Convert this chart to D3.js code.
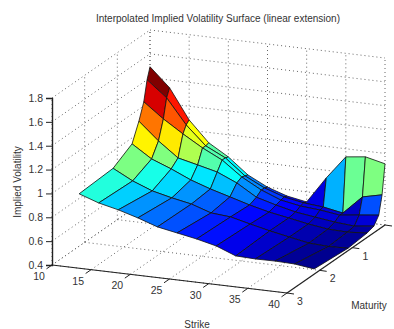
<!DOCTYPE html>
<html>
<head>
<meta charset="utf-8">
<script src="https://cdn.jsdelivr.net/npm/d3@7"></script>
<style>
  html, body { margin: 0; padding: 0; background: #fff; }
  svg { display: block; }
  text { font-family: "Liberation Sans", Arial, sans-serif; fill: #333; }
</style>
</head>
<body>
<div id="chart"></div>
<script>
// Interpolated implied volatility surface

// Grid values
const strikes = [10, 12.5, 15, 17.5, 20, 22.5, 25, 27.5, 30, 32.5, 35, 37.5, 40];
const maturities = [0, 0.09, 0.19, 0.34, 0.55, 1.13, 2.17];

const volM0 = [1.492, 1.335, 1.085, 0.913, 0.814, 0.683, 0.600, 0.545, 0.515, 0.736, 0.932, 0.952, 0.913];
const volM1 = [1.400, 1.268, 1.060, 0.904, 0.823, 0.692, 0.610, 0.554, 0.524, 0.509, 0.478, 0.633, 0.670];
const volM2 = [1.234, 1.110, 1.004, 0.906, 0.824, 0.702, 0.612, 0.547, 0.517, 0.503, 0.480, 0.500, 0.519];
const volM3 = [1.100, 0.954, 0.831, 0.792, 0.752, 0.680, 0.580, 0.534, 0.495, 0.472, 0.450, 0.436, 0.455];
const volM4 = [0.950, 0.843, 0.779, 0.706, 0.650, 0.603, 0.555, 0.515, 0.485, 0.454, 0.431, 0.425, 0.437];
const volM5 = [0.855, 0.769, 0.705, 0.666, 0.634, 0.579, 0.565, 0.525, 0.487, 0.455, 0.424, 0.415, 0.420];
const volM6 = [0.839, 0.782, 0.744, 0.696, 0.640, 0.609, 0.578, 0.539, 0.475, 0.469, 0.471, 0.466, 0.444];
const volRows = [volM0, volM1, volM2, volM3, volM4, volM5, volM6];

const strikeTicks = [10, 15, 20, 25, 30, 35, 40];
const maturityTicks = [0, 1, 2, 3];
const maturityLabels = [1, 2, 3];
const volTicks = [0.4, 0.6, 0.8, 1, 1.2, 1.4, 1.6, 1.8];

const width = 394, height = 329;

const svg = d3.select("#chart")
  .append("svg")
    .attr("width", width)
    .attr("height", height);

// Oblique projection: each data axis gets its own x and y scale
const originX = 52, originY = 265;
const strikeX = d3.scaleLinear().domain([10, 40]).range([0, 235]);
const strikeY = d3.scaleLinear().domain([10, 40]).range([0, 28]);
const matX = d3.scaleLinear().domain([3, 0]).range([0, 98]);
const matY = d3.scaleLinear().domain([3, 0]).range([0, -68]);
const volY = d3.scaleLinear().domain([0.4, 1.8]).range([originY, 98]);

function project(k, m, v) {
  return [originX + strikeX(k) + matX(m), strikeY(k) + matY(m) + volY(v)];
}

// Jet colormap
const allVols = volRows.flat();
const volNorm = d3.scaleLinear().domain(d3.extent(allVols)).range([0, 1]);
const jet = d3.scaleLinear()
  .domain([0, 0.125, 0.375, 0.625, 0.875, 1])
  .range(["#00008f", "#0000ff", "#00ffff", "#ffff00", "#ff0000", "#800000"]);

const line3d = d3.line();

// Dotted grid on the floor and the two back walls
function gridLine(a, b) {
  svg.append("path")
    .attr("d", line3d([a, b]))
    .attr("fill", "none")
    .attr("stroke", "#666")
    .attr("stroke-width", 1)
    .attr("stroke-dasharray", "1,3");
}
strikeTicks.forEach(k => {
  gridLine(project(k, 3, 0.4), project(k, 0, 0.4));
  gridLine(project(k, 0, 0.4), project(k, 0, 1.8));
});
maturityTicks.forEach(m => {
  gridLine(project(10, m, 0.4), project(40, m, 0.4));
  gridLine(project(10, m, 0.4), project(10, m, 1.8));
});
volTicks.forEach(v => {
  gridLine(project(10, 3, v), project(10, 0, v));
  gridLine(project(10, 0, v), project(40, 0, v));
});

// Surface cells, back to front. Colour comes from the first corner of the cell
const cells = [];
d3.range(maturities.length - 1).forEach(i => {
  d3.range(strikes.length - 1).forEach(j => {
    cells.push({i: i, j: j});
  });
});
svg.selectAll("path.cell")
  .data(cells)
  .enter()
  .append("path")
    .attr("class", "cell")
    .attr("d", d => line3d([
      project(strikes[d.j], maturities[d.i], volRows[d.i][d.j]),
      project(strikes[d.j + 1], maturities[d.i], volRows[d.i][d.j + 1]),
      project(strikes[d.j + 1], maturities[d.i + 1], volRows[d.i + 1][d.j + 1]),
      project(strikes[d.j], maturities[d.i + 1], volRows[d.i + 1][d.j])
    ]) + "Z")
    .attr("fill", d => jet(volNorm(volRows[d.i][d.j])))
    .attr("stroke", "#111")
    .attr("stroke-width", 0.8)
    .attr("stroke-linejoin", "round");

// Z axis
const zAxis = svg.append("g")
  .attr("transform", `translate(${originX},0)`)
  .call(d3.axisLeft(volY).tickValues(volTicks).tickFormat(d3.format("")).tickSize(6).tickPadding(3));
zAxis.selectAll("text").style("font-size", "10.5px");
zAxis.selectAll("path, line").attr("stroke", "#222");
zAxis.select(".domain").attr("stroke-width", 1.4);

// Strike axis
function axisLine(a, b, w) {
  svg.append("path")
    .attr("d", line3d([a, b]))
    .attr("fill", "none")
    .attr("stroke", "#222")
    .attr("stroke-width", w);
}
axisLine(project(10, 3, 0.4), project(40, 3, 0.4), 1.2);
strikeTicks.forEach(k => {
  const p = project(k, 3, 0.4);
  axisLine(p, [p[0] - 5.5, p[1] + 3.8], 1);
  svg.append("text")
    .attr("x", p[0] - 13)
    .attr("y", p[1] + 15)
    .attr("text-anchor", "middle")
    .style("font-size", "10.5px")
    .text(k);
});

// Maturity axis
axisLine(project(40, 3, 0.4), project(40, 0, 0.4), 1.2);
maturityTicks.forEach(m => {
  const p = project(40, m, 0.4);
  axisLine(p, [p[0] + 7, p[1] + 1], 1);
});
maturityLabels.forEach(m => {
  const p = project(40, m, 0.4);
  svg.append("text")
    .attr("x", p[0] + 13)
    .attr("y", p[1] + 12)
    .attr("text-anchor", "middle")
    .style("font-size", "10.5px")
    .text(m);
});

// Title and axis labels
svg.append("text")
  .attr("x", 218)
  .attr("y", 22)
  .attr("text-anchor", "middle")
  .style("font-size", "10px")
  .text("Interpolated Implied Volatility Surface (linear extension)");

svg.append("text")
  .attr("transform", "translate(21,182) rotate(-90)")
  .attr("text-anchor", "middle")
  .style("font-size", "10px")
  .text("Implied Volatility");

svg.append("text")
  .attr("x", 197)
  .attr("y", 328)
  .attr("text-anchor", "middle")
  .style("font-size", "10px")
  .text("Strike");

svg.append("text")
  .attr("x", 369)
  .attr("y", 309)
  .attr("text-anchor", "middle")
  .style("font-size", "10px")
  .text("Maturity");
</script>
</body>
</html>
